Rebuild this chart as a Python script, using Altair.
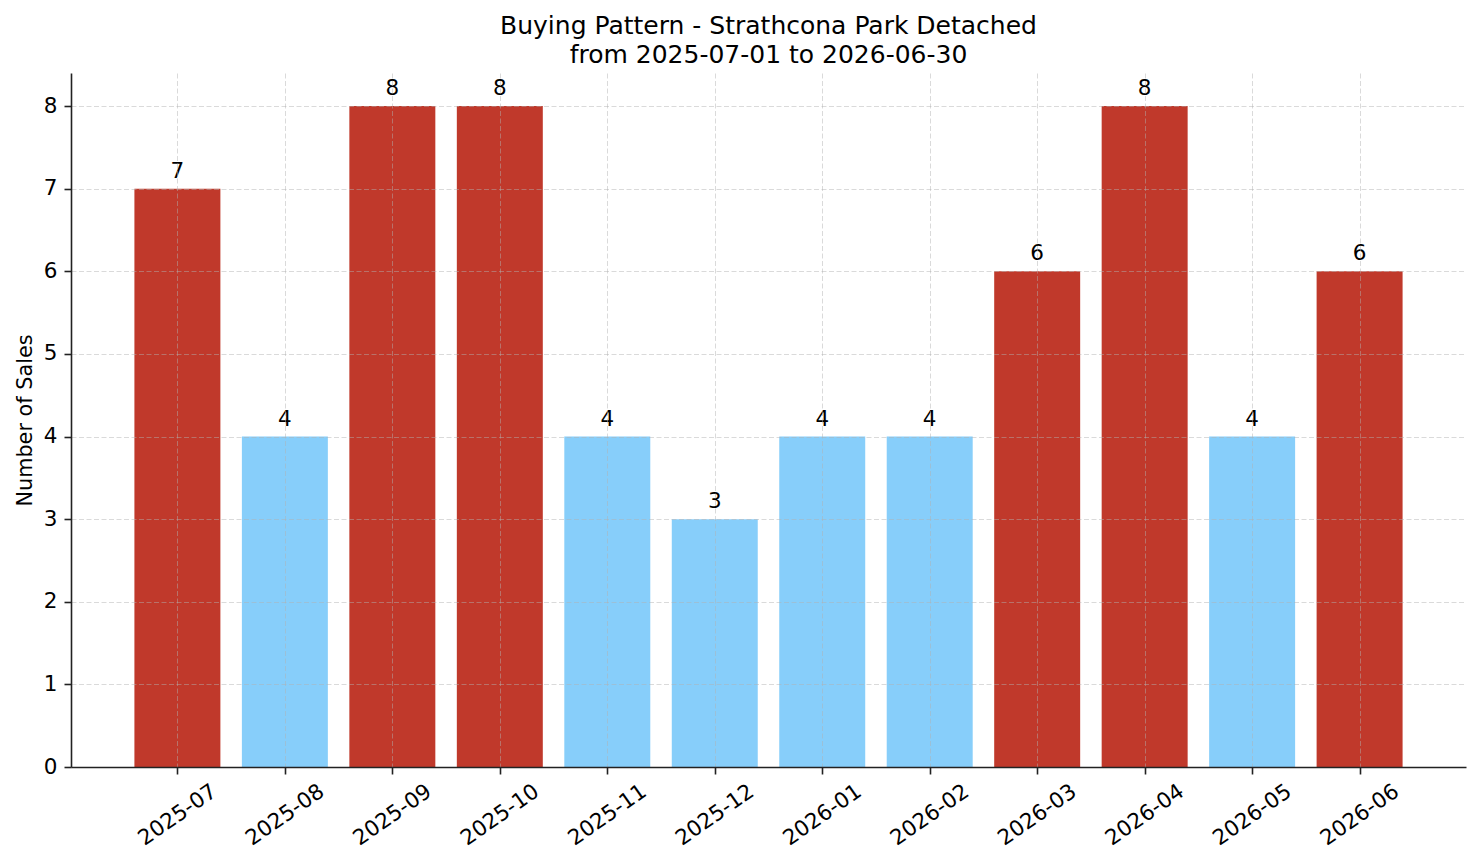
import altair as alt
import pandas as pd

months = ["2025-07", "2025-08", "2025-09", "2025-10", "2025-11", "2025-12",
          "2026-01", "2026-02", "2026-03", "2026-04", "2026-05", "2026-06"]
sales = [7, 4, 8, 8, 4, 3, 4, 4, 6, 8, 4, 6]
level = ["high", "low", "high", "high", "low", "low",
         "low", "low", "high", "high", "low", "high"]

df = pd.DataFrame({"idx": list(range(len(months))), "month": months,
                   "sales": sales, "level": level})

FONT = "DejaVu Sans"
FS = 20.8
TFS = 21.5
label_expr = "[" + ",".join(f"'{m}'" for m in months) + "][datum.value]"

base = alt.Chart(df).transform_calculate(
    x0="datum.idx - 0.4", x1="datum.idx + 0.4"
)

xscale = alt.Scale(domain=[-0.99, 11.99], nice=False, zero=False)
yscale = alt.Scale(domain=[0, 8.4], nice=False)

grid_style = dict(grid=True, gridColor="#b0b0b0", gridOpacity=0.6,
                  gridDash=[5, 2.5], gridWidth=0.8, zindex=1)
tick_style = dict(tickSize=7, tickWidth=1.6, tickColor="#222",
                  domainColor="#222", domainWidth=1.6)

bars = base.mark_bar().encode(
    x=alt.X("x0:Q", scale=xscale,
            axis=alt.Axis(values=list(range(len(months))), labelExpr=label_expr,
                          title=None, labelAngle=-35, labelAlign="center",
                          labelBaseline="middle", labelPadding=41,
                          labelOverlap=False, labelFontSize=21.5, labelFont=FONT,
                          labelColor="black", **tick_style, **grid_style)),
    x2="x1:Q",
    y=alt.Y("sales:Q", scale=yscale,
            axis=alt.Axis(values=list(range(0, 9)), format="d",
                          title="Number of Sales",
                          titleFontSize=FS, titleFont=FONT, titleFontWeight="normal",
                          titleColor="black", titlePadding=8,
                          labelFontSize=TFS, labelFont=FONT, labelColor="black",
                          labelPadding=7, **tick_style, **grid_style)),
    y2=alt.datum(0),
    color=alt.Color("level:N", scale=alt.Scale(domain=["high", "low"],
                                               range=["#c0392b", "#87cefa"]),
                    legend=None),
)

labels = base.transform_calculate(xc="datum.idx").mark_text(
    baseline="alphabetic", dy=-11, fontSize=21.5, font=FONT, color="black"
).encode(
    x=alt.X("xc:Q", scale=xscale),
    y=alt.Y("sales:Q", scale=yscale),
    text="sales:Q",
)

chart = alt.layer(bars, labels).properties(
    width=1395, height=694,
    background="white",
    title=alt.TitleParams(
        text=["Buying Pattern - Strathcona Park Detached", "from 2025-07-01 to 2026-06-30"],
        font=FONT, fontSize=25, fontWeight="normal", color="black",
        anchor="middle", offset=5, lineHeight=29),
    autosize=alt.AutoSizeParams(type="none"),
    padding={"left": 71, "top": 73, "right": 15, "bottom": 96},
).configure_view(stroke=None)

chart.save("out.html", embed_options={"renderer": "svg", "actions": False})
